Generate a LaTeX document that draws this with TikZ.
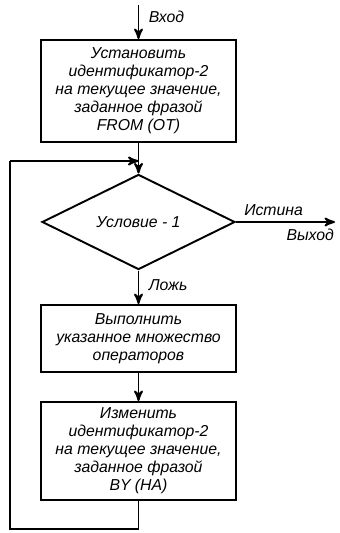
\documentclass[tikz,border=0pt]{standalone}
\usepackage{fontspec}
\setmainfont{Liberation Sans}
\usepackage{tikz}
\usetikzlibrary{arrows}
\usetikzlibrary{shapes.geometric}

\tikzset{
  blok/.style={draw, line width=1.1pt, minimum width=3.9cm, align=center, inner sep=0pt},
  uslovie/.style={draw, line width=1.1pt, diamond, minimum width=3.86cm, minimum height=1.6cm, inner sep=0pt},
  tekst/.style={font=\fontsize{9}{10.2}\selectfont\itshape},
  fleche/.style={line width=1.1pt, ->, >=stealth'}
}

\begin{document}
\begin{tikzpicture}[x=0.02cm, y=0.02cm, every node/.style={tekst}]
    % cadre
    \useasboundingbox (0,0) rectangle (339,533);
    % blocs
    \node[blok, minimum height=2.04cm] (init) at (138.5,442) {Установить\\идентификатор-2\\на текущее значение,\\заданное фразой\\FROM (ОТ)};
    \node[uslovie] (cond) at (138.5,311) {Условие - 1};
    \node[blok, minimum height=1.34cm] (corps) at (138.5,194.5) {Выполнить\\указанное множество\\операторов};
    \node[blok, minimum height=1.96cm] (pas) at (138.5,82) {Изменить\\идентификатор-2\\на текущее значение,\\заданное фразой\\BY (НА)};
    % points
    \coordinate (entree) at (138.5,528);
    \coordinate (sortie) at (335,311);
    \coordinate (jonction) at (138.5,372);
    \coordinate (bas) at (138.5,4);
    \coordinate (basg) at (10,4);
    \coordinate (hautg) at (10,372);
    % entrée
    \draw[fleche] (entree) -- (init.north) node[pos=0.35, right, xshift=2pt] {Вход};
    \draw[fleche] (init.south) -- (cond.north);
    % sortie
    \draw[fleche] (cond.east) -- (sortie)
        node[pos=0.38, above] {Истина}
        node[pos=0.75, below] {Выход};
    \draw[fleche] (cond.south) -- (corps.north) node[pos=0.45, right, xshift=2pt] {Ложь};
    \draw[fleche] (corps.south) -- (pas.north);
    % boucle
    \draw[line width=1.1pt] (pas.south) -- (bas) -- (basg) -- (hautg);
    \draw[fleche] (hautg) -- (jonction);
\end{tikzpicture}
\end{document}
